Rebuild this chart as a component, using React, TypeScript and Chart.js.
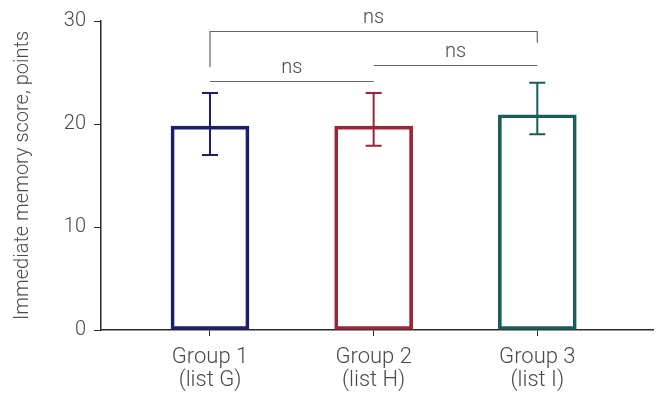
import { useEffect, useRef } from "react";
import { Chart, registerables } from "chart.js";

Chart.register(...registerables);

// Study groups and their immediate memory scores
const groupLabels = [
  ["Group 1", "(list G)"],
  ["Group 2", "(list H)"],
  ["Group 3", "(list I)"],
];
const groupPositions = [1, 2, 3];
const meanScores = [19.8, 19.8, 20.9];
const errorLow = [17, 17.9, 19];
const errorHigh = [23, 23, 24];
const groupColors = ["#1e1f6b", "#9c2537", "#1b5d5a"];
const yTickValues = [0, 10, 20, 30];

// Pairwise comparisons: groups compared, label, bracket level, and optional leg ends
const comparisonPairs = [
  [0, 1],
  [1, 2],
  [0, 2],
];
const comparisonLabels = ["ns", "ns", "ns"];
const comparisonLevels = [24.2, 25.7, 29.0];
const comparisonLegEnds: (number[] | null)[] = [null, null, [25.5, 27.9]];

const FONT_FAMILY = "Roboto, 'Liberation Sans', sans-serif";
const TEXT_COLOR = "#4a4a4a";
const AXIS_COLOR = "#2a2a2a";

const errorBarPlugin = {
  id: "errorBars",
  afterDatasetsDraw(chart: any) {
    const { ctx, scales } = chart;
    const xs = scales.x;
    const ys = scales.y;
    ctx.save();
    groupPositions.forEach((pos, i) => {
      const x = xs.getPixelForValue(pos);
      const yLo = ys.getPixelForValue(errorLow[i]);
      const yHi = ys.getPixelForValue(errorHigh[i]);
      const cap = 8;
      ctx.strokeStyle = groupColors[i];
      ctx.lineWidth = 2;
      ctx.beginPath();
      ctx.moveTo(x, yLo);
      ctx.lineTo(x, yHi);
      ctx.moveTo(x - cap, yHi);
      ctx.lineTo(x + cap, yHi);
      ctx.moveTo(x - cap, yLo);
      ctx.lineTo(x + cap, yLo);
      ctx.stroke();
    });
    ctx.restore();
  },
};

const comparisonPlugin = {
  id: "comparisons",
  afterDraw(chart: any) {
    const { ctx, scales } = chart;
    const xs = scales.x;
    const ys = scales.y;
    ctx.save();
    ctx.strokeStyle = "#666666";
    ctx.lineWidth = 1.2;
    ctx.fillStyle = TEXT_COLOR;
    ctx.font = `300 20px ${FONT_FAMILY}`;
    ctx.textAlign = "center";
    ctx.textBaseline = "alphabetic";
    comparisonPairs.forEach(([a, b], i) => {
      const x1 = xs.getPixelForValue(groupPositions[a]);
      const x2 = xs.getPixelForValue(groupPositions[b]);
      const y = Math.round(ys.getPixelForValue(comparisonLevels[i])) + 0.5;
      ctx.beginPath();
      const legs = comparisonLegEnds[i];
      if (legs) {
        ctx.moveTo(x1, ys.getPixelForValue(legs[0]));
        ctx.lineTo(x1, y);
        ctx.lineTo(x2, y);
        ctx.lineTo(x2, ys.getPixelForValue(legs[1]));
      } else {
        ctx.moveTo(x1, y);
        ctx.lineTo(x2, y);
      }
      ctx.stroke();
      ctx.fillText(comparisonLabels[i], (x1 + x2) / 2, y - 9);
    });
    ctx.restore();
  },
};

export default function App() {
  const canvasRef = useRef<HTMLCanvasElement | null>(null);

  useEffect(() => {
    if (!canvasRef.current) return;
    const chart = new Chart(canvasRef.current, {
      type: "bar",
      data: {
        datasets: [
          {
            data: groupPositions.map((x, i) => ({ x, y: meanScores[i] })),
            backgroundColor: "rgba(255,255,255,0)",
            borderColor: groupColors,
            borderWidth: 3,
            borderSkipped: false,
            barThickness: 78,
          },
        ],
      },
      options: {
        animation: false,
        responsive: false,
        maintainAspectRatio: false,
        layout: { padding: { top: 21, right: 6, bottom: 0, left: 0 } },
        plugins: {
          legend: { display: false },
          tooltip: { enabled: false },
        },
        scales: {
          x: {
            type: "linear",
            offset: false,
            min: 0.334,
            max: 3.707,
            afterBuildTicks: (scale: any) => {
              scale.ticks = groupPositions.map((v) => ({ value: v }));
            },
            afterFit: (scale: any) => {
              scale.height = 64;
            },
            ticks: {
              autoSkip: false,
              maxRotation: 0,
              padding: 10,
              color: TEXT_COLOR,
              font: { family: FONT_FAMILY, size: 22, weight: 300, lineHeight: 1.05 },
              callback: (value: any) => groupLabels[groupPositions.indexOf(Number(value))] ?? "",
            },
            grid: {
              offset: false,
              drawOnChartArea: false,
              drawTicks: true,
              tickLength: 6,
              color: AXIS_COLOR,
            },
            border: { display: true, color: AXIS_COLOR, width: 1.5 },
          },
          y: {
            min: 0,
            max: 30,
            afterBuildTicks: (scale: any) => {
              scale.ticks = yTickValues.map((v) => ({ value: v }));
            },
            afterFit: (scale: any) => {
              scale.width = 101;
            },
            ticks: {
              padding: 8,
              color: TEXT_COLOR,
              font: { family: FONT_FAMILY, size: 20, weight: 300 },
            },
            grid: {
              drawOnChartArea: false,
              drawTicks: true,
              tickLength: 7,
              color: AXIS_COLOR,
            },
            border: { display: true, color: AXIS_COLOR, width: 1.5 },
            title: {
              display: true,
              text: "Immediate memory score, points",
              color: TEXT_COLOR,
              padding: { top: 11, bottom: 0 },
              font: { family: FONT_FAMILY, size: 20, weight: 300 },
            },
          },
        },
      },
      plugins: [errorBarPlugin, comparisonPlugin],
    });
    return () => chart.destroy();
  }, []);

  return (
    <div style={{ position: "absolute", left: 0, top: 0, width: 659, height: 394, background: "#fff" }}>
      <canvas ref={canvasRef} width={659} height={394} />
    </div>
  );
}
